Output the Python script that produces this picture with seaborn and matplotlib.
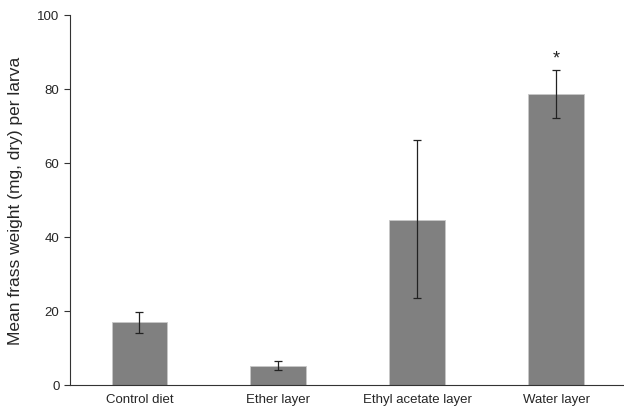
import numpy as np
import pandas as pd
import matplotlib
matplotlib.use("Agg")
import matplotlib.pyplot as plt
import seaborn as sns

# Data
groups = ["Control diet", "Ether layer", "Ethyl acetate layer", "Water layer"]
means = [16.9, 5.1, 44.7, 78.6]
err_low = [14.0, 4.0, 23.4, 72.2]
err_high = [19.7, 6.4, 66.2, 85.0]
marks = ["", "", "", "*"]

sns.set_style("white")
plt.rcParams['font.family'] = ['Liberation Sans', 'DejaVu Sans']

df = pd.DataFrame({"group": groups, "mean": means})

fig = plt.figure(figsize=(6.24, 4.10), dpi=100)
ax = fig.add_axes([0.112, 0.059, 0.886, 0.902])

sns.barplot(data=df, x="group", y="mean", order=groups, color="#808080",
            saturation=1, width=0.4, edgecolor="#c8c8c8", linewidth=0.6, ax=ax)

xs = np.arange(len(groups))
m = np.array(means)
yerr = np.vstack([m - np.array(err_low), np.array(err_high) - m])
ax.errorbar(xs, m, yerr=yerr, fmt="none", ecolor="#222222", elinewidth=0.9,
            capsize=3, capthick=0.9)

for x, hi, s in zip(xs, err_high, marks):
    if s:
        ax.text(x, hi + 1.2, s, ha="center", va="bottom", fontsize=13, color="#222222")

ax.set_xlim(-0.5, 3.48)
ax.set_ylim(0, 100)
ax.set_yticks([0, 20, 40, 60, 80, 100])
ax.set_xlabel("")
ax.set_ylabel("Mean frass weight (mg, dry) per larva", fontsize=12.5, labelpad=10)

ax.set_xticks([0.5, 1.5, 2.5], minor=True)
ax.tick_params(axis="x", which="major", length=0, labelsize=9.5, pad=6)
ax.tick_params(axis="x", which="minor", length=4, width=0.8, color="#333333", direction="out")
ax.tick_params(axis="y", length=4, width=0.8, color="#333333", direction="out", labelsize=9.5, left=True)

for side in ["top", "right"]:
    ax.spines[side].set_visible(False)
for side in ["left", "bottom"]:
    ax.spines[side].set_color("#333333")
    ax.spines[side].set_linewidth(0.8)

fig.savefig("out.png", dpi=100)
